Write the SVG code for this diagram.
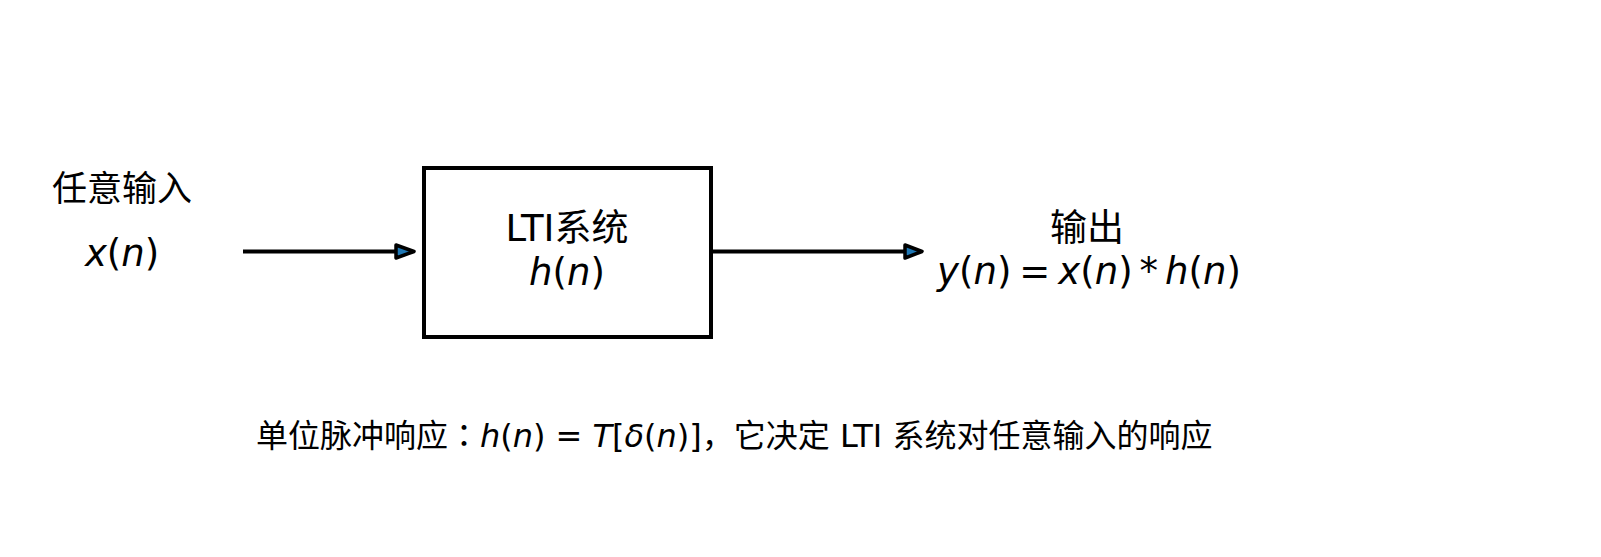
<svg xmlns="http://www.w3.org/2000/svg" width="1601" height="557" viewBox="0 0 1601 557">
<style>
text{font-family:"DejaVu Sans","Noto Sans CJK SC",sans-serif;fill:#000}
.lbl{font-size:37px}
.in{font-size:35px}
.math{font-size:37px}
.note{font-size:32px}
.it{font-style:italic}
.jp{font-family:"Noto Sans CJK JP",sans-serif}
.conn{stroke:#000;stroke-width:4;fill:none}
.head{fill:#1f77b4;stroke:#000;stroke-width:3.5;stroke-linejoin:round}
</style>
<rect width="1601" height="557" fill="#fff"/>
<g id="input">
<text class="in" x="122" y="201" text-anchor="middle">任意输入</text>
<text class="math" x="122" y="266" text-anchor="middle"><tspan class="it">x</tspan>(<tspan class="it">n</tspan>)</text>
</g>
<g id="system">
<rect x="424" y="168" width="287" height="169" fill="#fff" stroke="#000" stroke-width="4"/>
<text class="lbl" x="567" y="241" text-anchor="middle">LTI系统</text>
<text class="math" x="567" y="285" text-anchor="middle"><tspan class="it">h</tspan>(<tspan class="it">n</tspan>)</text>
</g>
<g id="output">
<text class="lbl" x="1087" y="241" text-anchor="middle">输出</text>
<text class="math" x="1089" y="284" text-anchor="middle"><tspan class="it">y</tspan>(<tspan class="it">n</tspan>)<tspan dx="8">=</tspan><tspan dx="8" class="it">x</tspan>(<tspan class="it">n</tspan>)<tspan dx="7">*</tspan><tspan dx="7" class="it">h</tspan>(<tspan class="it">n</tspan>)</text>
</g>
<g id="note">
<text class="note" x="256" y="447">单位脉冲响应<tspan class="jp">：</tspan><tspan class="it">h</tspan>(<tspan class="it">n</tspan>)<tspan dx="10">=</tspan><tspan dx="10" class="it">T</tspan>[<tspan class="it">δ</tspan>(<tspan class="it">n</tspan>)]，它决定 LTI 系统对任意输入的响应</text>
</g>
<g id="connectors">
<line class="conn" x1="243" y1="251.5" x2="400" y2="251.5"/>
<path class="head" d="M396,245 L414,251.5 L396,258 Z"/>
<line class="conn" x1="711" y1="251.5" x2="908" y2="251.5"/>
<path class="head" d="M905,245 L922,251.5 L905,258 Z"/>
</g>
</svg>
